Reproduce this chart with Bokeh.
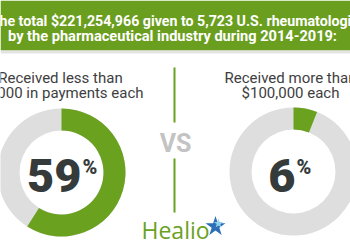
import math
from bokeh.plotting import figure
from bokeh.models import Range1d
from bokeh.core.properties import value
from bokeh.embed import file_html
from bokeh.resources import INLINE

# ---- data ----
title_lines = ["Of the total $221,254,966 given to 5,723 U.S. rheumatologists",
               "by the pharmaceutical industry during 2014-2019:"]
label_line1 = ["Received less than", "Received more than"]
label_line2 = ["$1,000 in payments each", "$100,000 each"]
shares = [59, 6]                      # percent of rheumatologists
share_text = ["59", "6"]
vs_text = "VS"
brand = "Healio"

# ---- layout / style ----
W, H = 350, 250
GREEN = "#6aa11f"
GRAY = "#dedede"
DARK = "#353b3b"
LABEL = "#3e3e3e"
K = 0.28   # baseline correction (fraction of font size)

def Y(yi):
    return H - yi

p = figure(width=W, height=H, x_range=Range1d(0, W), y_range=Range1d(0, H),
           output_backend="svg", toolbar_location=None,
           x_axis_location=None, y_axis_location=None, min_border=0)
p.outline_line_color = None
p.xgrid.visible = False
p.ygrid.visible = False
p.background_fill_color = "white"
p.border_fill_color = "white"

def txt(x, base, s, fs, color, align="center", bold=False, font="Roboto"):
    p.text(x=[x], y=[Y(base - K * fs)], text=[s], text_align=align,
           text_baseline="alphabetic", text_color=color, text_font=value(font),
           text_font_style="bold" if bold else "normal",
           text_font_size=f"{fs}px")

# banner
p.quad(left=0, right=W, top=Y(0), bottom=Y(50), color="#6a9e1e", line_color=None)
p.quad(left=0, right=W, top=Y(50), bottom=Y(53), color="#e4e4e4", line_color=None)
txt(173, 24, title_lines[0], 14.2, "white", bold=True)
txt(172, 40, title_lines[1], 14.6, "white", bold=True)

# donuts
cx = [61, 293]
cy = [Y(172), Y(171)]
outer = 64
inner = 42
label_x = [60, 290]
num_right = [81, 295]
for i, s in enumerate(shares):
    p.annulus(x=[cx[i]], y=[cy[i]], inner_radius=inner, outer_radius=outer,
              fill_color=GRAY, line_color=None)
    p.annular_wedge(x=[cx[i]], y=[cy[i]], inner_radius=inner, outer_radius=outer,
                    start_angle=math.pi / 2,
                    end_angle=math.pi / 2 - 2 * math.pi * s / 100,
                    direction="clock", fill_color=GREEN, line_color=None)
    txt(label_x[i], 82, label_line1[i], 15, LABEL)
    txt(label_x[i], 97, label_line2[i], 15, LABEL)
    txt(num_right[i], 188, share_text[i], 47, DARK, align="right", bold=True,
        font="'Roboto Black', Roboto")
    txt(num_right[i] + 1, 172, "%", 20, DARK, align="left", bold=True,
        font="'Roboto Black', Roboto")

# center divider + VS
p.segment(x0=[174, 174], y0=[Y(67), Y(158)], x1=[174, 174], y1=[Y(122), Y(212)],
          line_color=GREEN, line_width=2)
txt(175, 150, vs_text, 25, "#c3c3c3", bold=True)

# Healio logo
txt(141, 236, brand, 23, GREEN, align="left", font="Open Sans")
p.scatter(x=[215], y=[Y(226)], marker="star", size=21, fill_color="#2c6fb5",
          line_color=None)
p.scatter(x=[218], y=[Y(223)], marker="star", size=10, fill_color="#8fd0ef",
          line_color=None)

open("out.html", "w").write(file_html(p, INLINE))
